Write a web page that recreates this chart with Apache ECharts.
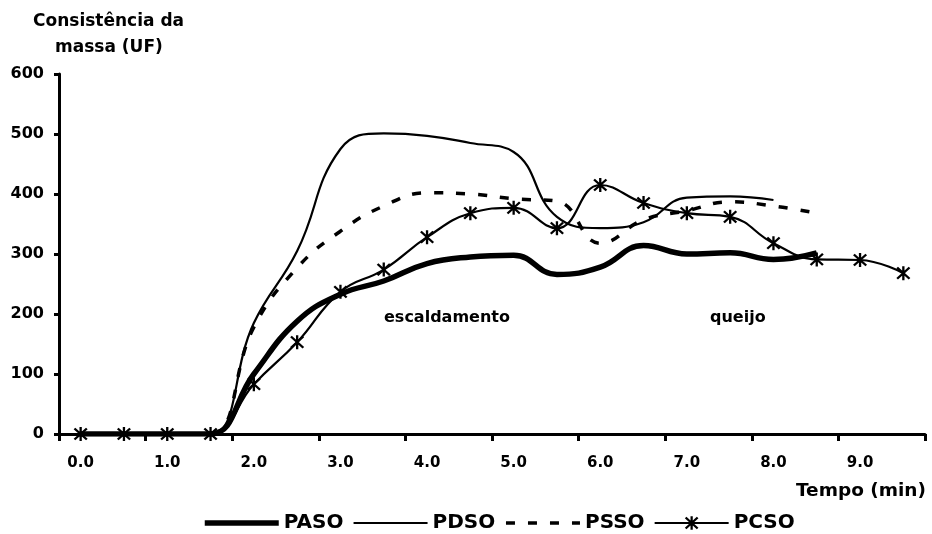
<!DOCTYPE html>
<html>
<head>
<meta charset="utf-8">
<script src="https://cdn.jsdelivr.net/npm/echarts@6/dist/echarts.min.js"></script>
<style>
  html, body { margin: 0; padding: 0; background: #fff; }
  #chart { width: 932px; height: 534px; }
</style>
</head>
<body>
<div id="chart"></div>
<script>
// Tempo (min), every half minute
const tempo = ['0.0','0.5','1.0','1.5','2.0','2.5','3.0','3.5','4.0','4.5',
               '5.0','5.5','6.0','6.5','7.0','7.5','8.0','8.5','9.0','9.5'];

// Consistência da massa (UF) per treatment
const paso = [0, 0, 0, 0, 100, 188, 233, 255, 284, 295, 298, 266, 278, 314, 300, 302, 291, 302, null, null];
const pdso = [0, 0, 0, 0, 185, 305, 475, 501, 497, 485, 470, 362, 343, 353, 394, 396, 390, null, null, null];
const pssoVals = [0, 0, 0, 0, 178, 277, 338, 380, 402, 400, 392, 388, 318, 357, 372, 387, 380, 368, null, null];
const pcso = [0, 0, 0, 0, 83, 153, 237, 274, 328, 368, 377, 343, 415, 385, 368, 362, 318, 291, 290, 268];

const yTicks = { min: 0, max: 600, step: 100 };

const FONT = 'DejaVu Sans';

// six-armed asterisk marker (vertical bar plus an X)
const asterisk = 'path://M8.5 0L11.5 0L11.5 20L8.5 20Z' +
  'M0.94 3.06L3.06 0.94L19.06 16.94L16.94 19.06Z' +
  'M16.94 0.94L19.06 3.06L3.06 19.06L0.94 16.94Z';

const styles = {
  PASO: { width: 5.5 },
  PDSO: { width: 2.2 },
  PSSO: { width: 3.5, type: [9, 13] },
  PCSO: { width: 2.2 }
};

const chart = echarts.init(document.getElementById('chart'), null, { renderer: 'canvas' });

const baseLine = (name, data, extra) => Object.assign({
  name, type: 'line', data, smooth: 0.45, symbol: 'none',
  lineStyle: Object.assign({ color: '#000' }, styles[name]),
  itemStyle: { color: '#000' },
  emphasis: { disabled: true }
}, extra || {});

// legend entries: plain lines for the unmarked series, line + asterisk for PCSO
const legendItem = (name, marked) => ({
  name,
  lineStyle: Object.assign({ color: '#000' }, styles[name]),
  itemStyle: marked ? { color: '#000' } : { opacity: 0 }
});

chart.setOption({
  animation: false,
  backgroundColor: '#fff',
  grid: { left: 59, right: 7, top: 74, bottom: 100, containLabel: false },
  xAxis: {
    type: 'category',
    data: tempo,
    boundaryGap: true,
    axisLine: { lineStyle: { color: '#000', width: 3 } },
    axisTick: { show: true, interval: 1, length: 7, lineStyle: { color: '#000', width: 3 } },
    axisLabel: { interval: 1, margin: 22, color: '#000', fontFamily: FONT, fontWeight: 'bold', fontSize: 15 },
    splitLine: { show: false }
  },
  yAxis: {
    type: 'value',
    min: yTicks.min, max: yTicks.max, interval: yTicks.step,
    axisLine: { show: true, lineStyle: { color: '#000', width: 3 } },
    axisTick: { show: true, length: 5, lineStyle: { color: '#000', width: 3 } },
    axisLabel: { margin: 15, color: '#000', fontFamily: FONT, fontWeight: 'bold', fontSize: 16 },
    splitLine: { show: false }
  },
  legend: {
    left: 202, top: 513, padding: 0,
    itemWidth: 74, itemHeight: 17, itemGap: 9,
    textStyle: { color: '#000', fontFamily: FONT, fontWeight: 'bold', fontSize: 20 },
    data: [
      legendItem('PASO', false),
      legendItem('PDSO', false),
      legendItem('PSSO', false),
      legendItem('PCSO', true)
    ]
  },
  series: [
    baseLine('PASO', paso),
    baseLine('PDSO', pdso),
    baseLine('PSSO', pssoVals),
    baseLine('PCSO', pcso, { symbol: asterisk, symbolSize: 14, showSymbol: true })
  ],
  graphic: [
    { type: 'text', left: 33, top: 13,
      style: { text: 'Consistência da', fill: '#000', font: 'bold 17px "DejaVu Sans"' } },
    { type: 'text', left: 55, top: 39,
      style: { text: 'massa (UF)', fill: '#000', font: 'bold 17px "DejaVu Sans"' } },
    { type: 'text', right: 6, top: 482,
      style: { text: 'Tempo (min)', fill: '#000', font: 'bold 18.5px "DejaVu Sans"' } },
    { type: 'text', left: 384, top: 310,
      style: { text: 'escaldamento', fill: '#000', font: 'bold 16px "DejaVu Sans"' } },
    { type: 'text', left: 710, top: 310,
      style: { text: 'queijo', fill: '#000', font: 'bold 16px "DejaVu Sans"' } }
  ]
});
</script>
</body>
</html>
